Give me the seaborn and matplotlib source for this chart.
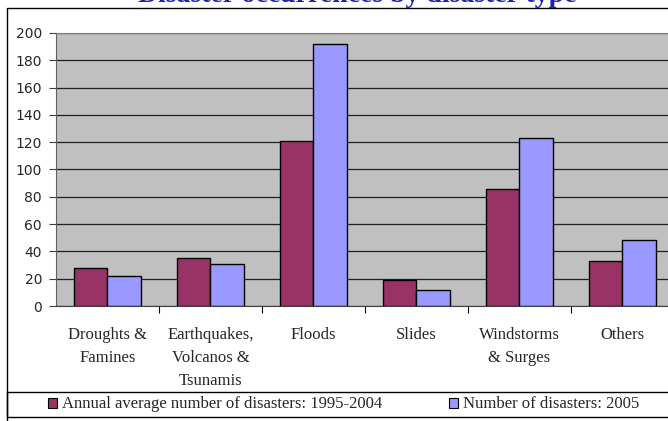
import matplotlib
matplotlib.use("Agg")
import matplotlib.pyplot as plt
import seaborn as sns
import pandas as pd
from matplotlib.patches import Rectangle

# data
categories = ["Droughts &\nFamines", "Earthquakes,\nVolcanos &\nTsunamis", "Floods",
              "Slides", "Windstorms\n& Surges", "Others"]
avg_1995_2004 = [28, 35, 121, 19, 86, 33]
count_2005 = [22, 31, 192, 12, 123, 48]
series = ["Annual average number of disasters: 1995-2004", "Number of disasters: 2005"]
colors = ["#993366", "#9999FF"]
yticks = list(range(0, 201, 20))

df = pd.DataFrame({
    "type": categories * 2,
    "series": [series[0]] * len(categories) + [series[1]] * len(categories),
    "value": avg_1995_2004 + count_2005,
})

sns.set_style("white")
serif = "Liberation Serif"

W, H = 668, 421
fig = plt.figure(figsize=(W / 100, H / 100), dpi=100)
ax = fig.add_axes([56 / W, 115 / H, 618 / W, 273 / H])

sns.barplot(data=df, x="type", y="value", hue="series", palette=colors,
            saturation=1, width=0.66, edgecolor="black", linewidth=1, ax=ax)

ax.set_facecolor("#C0C0C0")
ax.set_ylim(0, 200)
ax.set_xlim(-0.5, len(categories) - 0.5)
ax.set_yticks(yticks)
ax.set_axisbelow(True)
ax.yaxis.grid(True, color="#202020", linewidth=0.9)
ax.set_xlabel("")
ax.set_ylabel("")

for s in ["top", "right"]:
    ax.spines[s].set_color("#808080")
    ax.spines[s].set_linewidth(0.8)
ax.spines["left"].set_color("#606060")
ax.spines["bottom"].set_color("#404040")

ax.tick_params(axis="y", left=True, length=5, width=0.8, color="#404040",
               labelsize=10, pad=5)
ax.set_xticks(range(len(categories)))
ax.set_xticklabels(categories, fontfamily=serif, fontsize=12, linespacing=1.6)
ax.tick_params(axis="x", which="major", length=0, pad=15)
ax.set_xticks([i - 0.5 for i in range(1, len(categories) + 1)], minor=True)
ax.tick_params(axis="x", which="minor", bottom=True, length=5, width=0.8, color="black")

ax.get_legend().remove()

# outer chart frame and legend box
fig.patches.append(Rectangle((7 / W, -0.1), 1.2, (H - 8) / H + 0.1, transform=fig.transFigure,
                             fill=False, edgecolor="black", linewidth=1))
fig.patches.append(Rectangle((7 / W, (H - 417) / H), 1.2, 25 / H, transform=fig.transFigure,
                             fill=False, edgecolor="black", linewidth=1))

handles = [Rectangle((0, 0), 1, 1, facecolor=c, edgecolor="black", linewidth=0.8) for c in colors]
fig.legend(handles, series, loc="center left", bbox_to_anchor=(48 / W, (H - 404.5) / H),
           ncol=2, frameon=False, borderpad=0, borderaxespad=0,
           handlelength=0.55, handleheight=0.55, handletextpad=0.3, columnspacing=4.0,
           prop={"family": serif, "size": 12})

# title sits mostly above the visible area, as in the source image
fig.text(0.535, (H - 2) / H, "Disaster occurrences by disaster type", ha="center", va="baseline",
         color="#2020B0", fontsize=20, fontweight="bold", fontfamily=serif)

fig.savefig("out.png", dpi=100)
